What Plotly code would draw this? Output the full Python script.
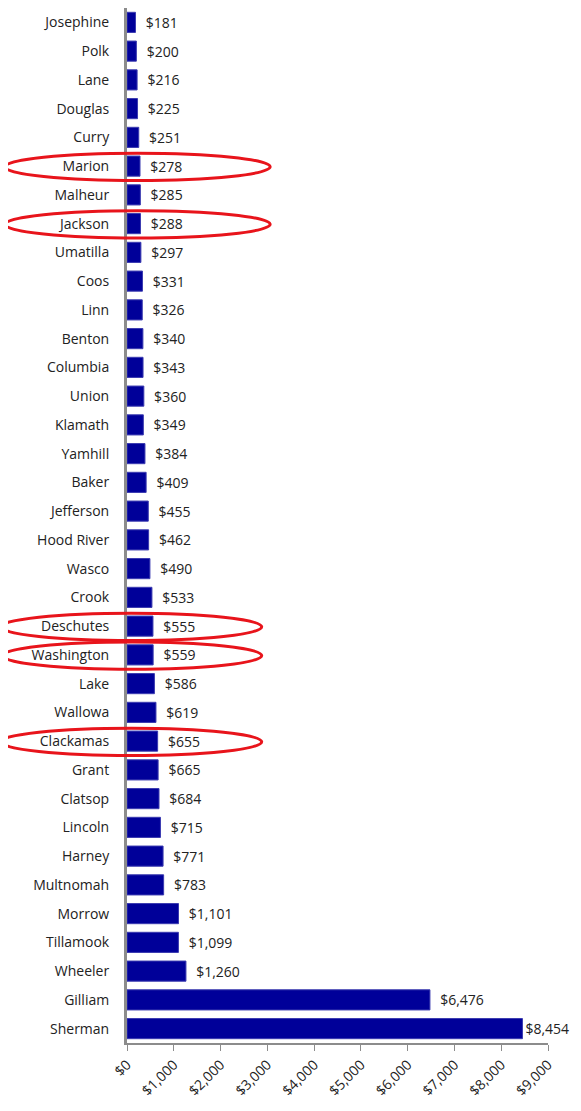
import plotly.graph_objects as go

counties = ["Josephine", "Polk", "Lane", "Douglas", "Curry", "Marion", "Malheur", "Jackson",
            "Umatilla", "Coos", "Linn", "Benton", "Columbia", "Union", "Klamath", "Yamhill",
            "Baker", "Jefferson", "Hood River", "Wasco", "Crook", "Deschutes", "Washington",
            "Lake", "Wallowa", "Clackamas", "Grant", "Clatsop", "Lincoln", "Harney",
            "Multnomah", "Morrow", "Tillamook", "Wheeler", "Gilliam", "Sherman"]
values = [181, 200, 216, 225, 251, 278, 285, 288, 297, 331, 326, 340, 343, 360, 349, 384,
          409, 455, 462, 490, 533, 555, 559, 586, 619, 655, 665, 684, 715, 771,
          783, 1101, 1099, 1260, 6476, 8454]
highlighted = ["Marion", "Jackson", "Deschutes", "Washington", "Clackamas"]
x_ticks = list(range(0, 9001, 1000))

labels = [f"${v:,}" for v in values]
# the longest bar's label sits tight against the bar end
texts = ["  " + t for t in labels[:-1]] + [labels[-1]]

fig = go.Figure()
fig.add_trace(go.Bar(
    y=counties, x=values, orientation="h",
    marker=dict(color="#000099", line=dict(color="#3a3ab0", width=1)),
    text=texts, textposition="outside",
    textfont=dict(family="Open Sans, Liberation Sans, sans-serif", size=14, color="#222"),
    cliponaxis=False,
))

# red ellipses around highlighted counties
ellipse_x = {"Marion": (-0.29, 0.34), "Jackson": (-0.29, 0.34), "Deschutes": (-0.30, 0.32),
             "Washington": (-0.295, 0.32), "Clackamas": (-0.30, 0.32)}
for name in highlighted:
    i = counties.index(name)
    x0, x1 = ellipse_x[name]
    fig.add_shape(type="circle", xref="paper", yref="y", x0=x0, x1=x1,
                  y0=i - 0.45, y1=i + 0.5, line=dict(color="#e8141b", width=3))

# page body adds an 8px offset, so the figure is sized to fit inside it
fig.update_layout(
    width=573, height=1103,
    margin=dict(l=119, r=33, t=0, b=68, autoexpand=False),
    plot_bgcolor="white", paper_bgcolor="white",
    bargap=0.3, showlegend=False,
    font=dict(family="Open Sans, Liberation Sans, sans-serif", size=14, color="#222"),
)
fig.update_yaxes(
    type="category", categoryorder="array", categoryarray=counties,
    range=[len(counties) - 0.5, -0.5], automargin=False,
    showline=True, linecolor="#8c8c8c", linewidth=3,
    ticks="", ticklabelstandoff=12, showgrid=False,
    tickfont=dict(size=14, color="#222"),
)
fig.update_xaxes(
    range=[0, 9000], tickvals=x_ticks, ticktext=[f"${v:,}" for v in x_ticks],
    tickangle=-45, showline=True, linecolor="#8c8c8c", linewidth=2, automargin=False,
    ticks="outside", ticklen=6, tickcolor="#8c8c8c", showgrid=False, zeroline=False,
    tickfont=dict(size=14, color="#222"),
)

fig.write_html("out.html")
